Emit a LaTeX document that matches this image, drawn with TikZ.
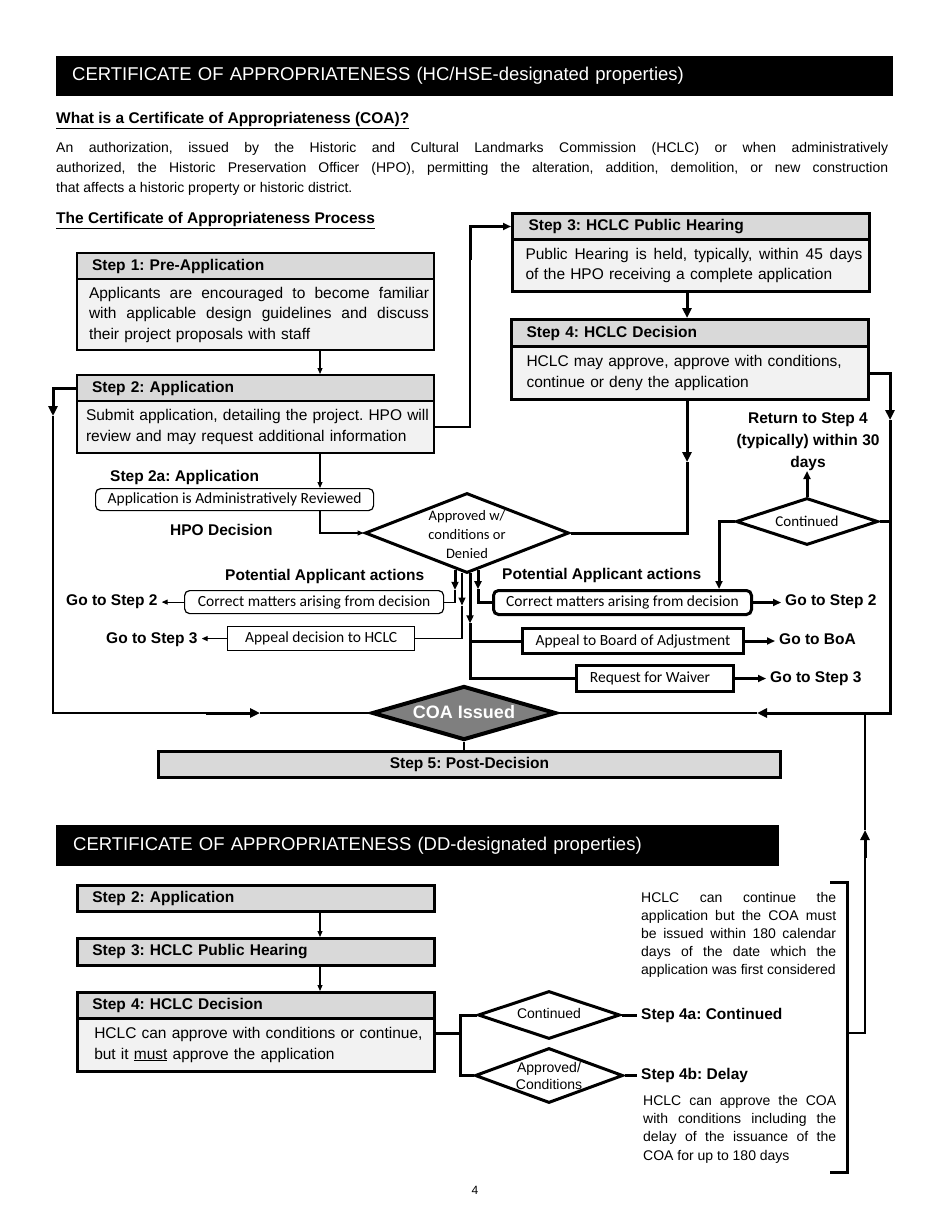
\documentclass[tikz,border=0pt]{standalone}
\usepackage{fontspec}
\setmainfont{Liberation Sans}
\newfontfamily\calfont{Carlito}
\usetikzlibrary{arrows.meta,shapes.geometric,calc}
\definecolor{hgray}{HTML}{D9D9D9}
\definecolor{bgray}{HTML}{F2F2F2}
\definecolor{coagray}{HTML}{7F7F7F}
\frenchspacing
\newcommand\jl[2]{{\spaceskip=0pt\xspaceskip=0pt\makebox[#1][s]{#2}}}
\newcommand\fB{\fontsize{15.5}{20.5}\selectfont}
\newcommand\fP{\fontsize{14}{20}\selectfont}
\newcommand\fN{\fontsize{14}{18}\selectfont}
\newcommand\fH{\fontsize{18.5}{22}\selectfont}
\newcommand\fC{\fontsize{15.5}{19}\selectfont\calfont}
\tikzset{
 lbl/.style={inner sep=0pt, anchor=base west, font=\fB\bfseries},
 lblr/.style={inner xsep=4pt, inner ysep=0pt, anchor=base west, font=\fB\bfseries},
 ptext/.style={inner sep=0pt, anchor=base west, font=\fP},
 ntext/.style={inner sep=0pt, anchor=base west, font=\fN},
 blackbar/.style={fill=black, text=white, anchor=north west, inner sep=0pt, align=left, font=\fH},
 stephdr/.style={draw, fill=hgray, anchor=north west, inner sep=0pt, text width=357pt, minimum height=26pt, align=left, font=\fB\bfseries},
 stepbody/.style={draw, fill=bgray, anchor=north west, inner sep=0pt, text width=357pt, align=left, font=\fB},
 cbox/.style={draw, fill=white, anchor=north west, inner sep=0pt, font=\fC, align=center},
 dia/.style={diamond, draw, fill=white, inner sep=0pt},
 lthin/.style={line width=1.1pt},
 lmid/.style={line width=2pt},
 lthick/.style={line width=3pt},
 tarr/.style={-{Triangle[length=6pt,width=5pt]}},
 marr/.style={-{Triangle[length=8pt,width=7pt]}},
 Tarr/.style={-{Triangle[length=10pt,width=9pt]}},
}
\begin{document}
\begin{tikzpicture}[x=1pt,y=-1pt]
\useasboundingbox (0,0) rectangle (950,1230);
\fill[white] (0,0) rectangle (950,1230);

% ---------- top section text ----------
\node[blackbar, text width=837pt, minimum height=40pt] (hdr1) at (56,56) {\hspace*{16pt}CERTIFICATE OF APPROPRIATENESS (HC/HSE-designated properties)};
\node[lbl] (q1) at (56,123.5) {\underline{What is a Certificate of Appropriateness (COA)?}};
\node[ptext] (p1) at (56,153) {\jl{832pt}{An authorization, issued by the Historic and Cultural Landmarks Commission (HCLC) or when administratively}};
\node[ptext] (p2) at (56,173) {\jl{832pt}{authorized, the Historic Preservation Officer (HPO), permitting the alteration, addition, demolition, or new construction}};
\node[ptext] (p3) at (56,193) {that affects a historic property or historic district.};
\node[lbl] (q2) at (56,223.5) {\underline{The Certificate of Appropriateness Process}};

% ---------- step boxes ----------
\node[stephdr, line width=2pt] (s1h) at (76,252) {\hspace*{15pt}Step 1: Pre-Application};
\node[stepbody, line width=2pt, minimum height=71pt] (s1b) at (76,278) {\hspace*{12pt}\jl{340pt}{Applicants are encouraged to become familiar}\\\hspace*{12pt}\jl{340pt}{with applicable design guidelines and discuss}\\\hspace*{12pt}their project proposals with staff};
\node[stephdr, line width=2pt] (s2h) at (76,374) {\hspace*{15pt}Step 2: Application};
\node[stepbody, line width=2pt, minimum height=52pt] (s2b) at (76,400) {\hspace*{9pt}Submit application, detailing the project. HPO will\\\hspace*{9pt}review and may request additional information};
\node[stephdr, line width=3pt] (s3h) at (511,212) {\hspace*{16pt}Step 3: HCLC Public Hearing};
\node[stepbody, line width=3pt, minimum height=52pt] (s3b) at (511,238) {\hspace*{13pt}\jl{337pt}{Public Hearing is held, typically, within 45 days}\\\hspace*{13pt}of the HPO receiving a complete application};
\node[stephdr, line width=3pt, minimum height=27pt] (s4h) at (510,318) {\hspace*{15pt}Step 4: HCLC Decision};
\node[stepbody, line width=3pt, minimum height=53pt] (s4b) at (510,345) {\hspace*{15pt}HCLC may approve, approve with conditions,\\\hspace*{15pt}continue or deny the application};

% ---------- decision area ----------
\node[lbl] (s2al) at (110,481.5) {Step 2a: Application};
\node[cbox, rounded corners=5pt, line width=1.2pt, minimum width=278pt, minimum height=22pt] (rev) at (95,488) {Application is Administratively Reviewed};
\node[lbl] (hpol) at (170,535.5) {HPO Decision};
\node[dia, line width=3pt, minimum width=204pt, minimum height=80pt] (hpo) at (467,533) {};
\node[inner sep=0pt, align=center, font=\fontsize{14.5}{19}\selectfont\calfont] (hpot) at (467,535) {Approved w/\\conditions or\\Denied};

\node[dia, line width=3pt, minimum width=142pt, minimum height=47pt] (cont) at (807,521.5) {};
\node[inner sep=0pt, font=\fontsize{15}{18}\selectfont\calfont] (contt) at (807,521) {Continued};
\node[inner sep=0pt, anchor=south, align=center, font=\fontsize{15.5}{22}\selectfont\bfseries] (ret) at (808,471) {Return to Step 4\\(typically) within 30\\days};

\node[lbl] (pal) at (225,580.5) {Potential Applicant actions};
\node[lbl] (parl) at (502,579.5) {Potential Applicant actions};

\node[cbox, rounded corners=5pt, line width=1.2pt, minimum width=259pt, minimum height=23pt] (lcorr) at (184,590) {Correct matters arising from decision};
\node[cbox, line width=1.2pt, minimum width=187pt, minimum height=24pt] (lapp) at (227,626) {Appeal decision to HCLC};
\node[lblr] (gl2) at (62,605.5) {Go to Step 2};
\node[lblr] (gl3) at (102,643.5) {Go to Step 3};

\node[cbox, rounded corners=5pt, line width=3pt, minimum width=258pt, minimum height=24pt] (rcorr) at (492,589) {Correct matters arising from decision};
\node[cbox, line width=3pt, minimum width=221pt, minimum height=25pt] (boa) at (521,627) {Appeal to Board of Adjustment};
\node[cbox, line width=3pt, minimum width=157pt, minimum height=26pt] (waiv) at (575,664) {Request for Waiver\hspace*{10pt}};
\node[lblr] (gr2) at (781,605.5) {Go to Step 2};
\node[lblr] (gboa) at (775,644) {Go to BoA};
\node[lblr] (gr3) at (766,682.5) {Go to Step 3};

\node[dia, line width=4pt, fill=coagray, minimum width=184pt, minimum height=54pt] (coa) at (464,713) {};
\node[inner sep=0pt, text=white, font=\fontsize{18}{20}\selectfont\bfseries] (coat) at (464,712) {COA Issued};
\node[draw, fill=hgray, line width=3pt, minimum width=622pt, minimum height=26pt, anchor=north west, inner sep=0pt, font=\fB\bfseries] (s5) at (157,750) {Step 5: Post-Decision};

% ---------- coordinates ----------
\coordinate (cx320) at (320,0);
\coordinate (cx687) at (687,0);
\coordinate (cx719) at (719,0);
\coordinate (ll1) at (53,416);
\coordinate (ll2) at (53,713);
\coordinate (la1) at (206,713);
\coordinate (la2) at (260,713);
\coordinate (r1) at (470,260);
\coordinate (d1) at (687,462);
\coordinate (rr1) at (890,420);
\coordinate (rr2) at (890,713);
\coordinate (ra1) at (816,713);
\coordinate (ra2) at (757,713);
\coordinate (h1) at ($(hpo.south)+(-12,-4.7)$);
\coordinate (h2) at ($(hpo.south)+(-5,-2)$);
\coordinate (h3) at ($(hpo.south)+(3,-1.2)$);
\coordinate (h4) at ($(hpo.south)+(11,-4.3)$);
\coordinate (a1) at ($(h1)+(0,20)$);
\coordinate (a2) at ($(h2)+(0,33)$);
\coordinate (a3) at ($(h3)+(0,50)$);
\coordinate (a4) at ($(h4)+(0,19)$);

% ---------- connectors top ----------
\draw[lthin,tarr] (s1b.south -| cx320) -- (s2h.north -| cx320);
\draw[lthin,tarr] (s2b.south -| cx320) -- (rev.north -| cx320);
\draw[lthin,tarr] (rev.south -| cx320) |- (hpo.west);

\draw[lthick,Tarr] (s2h.west) -| (ll1);
\draw[lthin] (ll1) -- (ll2) -- (la1);
\draw[lthick,Tarr] (la1) -- (la2);
\draw[lthin] (la2) -- (coa.west);

\draw[lthin] (s2b.east) -| (r1);
\draw[lthick,marr] (r1) |- (s3h.west);
\draw[lthick,Tarr] (s3b.south -| cx687) -- (s4h.north -| cx687);
\draw[lthick,Tarr] (s4b.south -| cx687) -- (d1);
\draw[lthick] (d1) |- (hpo.east);

\draw[lthick,Tarr] (s4b.east) -| (rr1);
\draw[lthick] (rr1) -- (rr2) -- (ra1);
\draw[lthick,Tarr] (ra1) -- (ra2);
\draw[lthin] (ra2) -- (coa.east);

\draw[lthick] (cont.east) -- (cont.east -| rr1);
\draw[lthick,marr] (cont.north) -- (cont.north |- ret.south);
\draw[lthick,marr] (cont.west) -| (rcorr.north -| cx719);

\draw[lthick,marr] (h1) -- (a1);
\draw[lthin] (a1) |- (lcorr.east);
\draw[lthin,marr] (h2) -- (a2);
\draw[lthin] (a2) |- (lapp.east);
\draw[lthick,marr] (h3) -- (a3);
\draw[lthick] (a3) |- (waiv.west);
\draw[lthick] (boa.west -| a3) -- (boa.west);
\draw[lthick,marr] (h4) -- (a4);
\draw[lthick] (a4) |- (rcorr.west);

\draw[lthin,tarr] (lcorr.west) -- (lcorr.west -| gl2.east);
\draw[lthin,tarr] (lapp.west) -- (lapp.west -| gl3.east);
\draw[lthick,marr] (rcorr.east) -- (rcorr.east -| gr2.west);
\draw[lthick,marr] (boa.east) -- (boa.east -| gboa.west);
\draw[lthick,marr] (waiv.east) -- (waiv.east -| gr3.west);

\draw[lthin] (coa.south) -- (coa.south |- s5.north);

% ---------- DD section ----------
\node[blackbar, text width=723pt, minimum height=41pt] (hdr2) at (56,825) {\hspace*{17pt}CERTIFICATE OF APPROPRIATENESS (DD-designated properties)};
\node[stephdr, line width=2.5pt] (d2h) at (76,884) {\hspace*{15pt}Step 2: Application};
\node[stephdr, line width=2.5pt, minimum height=27pt] (d3h) at (76,937) {\hspace*{15pt}Step 3: HCLC Public Hearing};
\node[stephdr, line width=2.5pt] (d4h) at (76,991) {\hspace*{15pt}Step 4: HCLC Decision};
\node[stepbody, line width=2.5pt, minimum height=53pt] (d4b) at (76,1017) {\hspace*{17pt}HCLC can approve with conditions or continue,\\\hspace*{17pt}but it \underline{must} approve the application};

\node[dia, line width=3pt, minimum width=142pt, minimum height=48pt] (dcont) at (549,1015) {};
\node[inner sep=0pt, font=\fontsize{14}{17}\selectfont] (dcontt) at (549,1013) {Continued};
\node[dia, line width=3pt, minimum width=148pt, minimum height=55pt] (dapp) at (549,1075.5) {};
\node[inner sep=0pt, align=center, font=\fontsize{14}{17}\selectfont] (dappt) at (549,1075.5) {Approved/\\Conditions};

\node[lblr] (s4a) at (637,1019.5) {Step 4a: Continued};
\node[lblr] (s4bl) at (637,1079.5) {Step 4b: Delay};

\node[ntext] (n1) at (641,902) {\jl{195pt}{HCLC can continue the}};
\node[ntext] (n2) at (641,920) {\jl{195pt}{application but the COA must}};
\node[ntext] (n3) at (641,938) {\jl{195pt}{be issued within 180 calendar}};
\node[ntext] (n4) at (641,956) {\jl{195pt}{days of the date which the}};
\node[ntext] (n5) at (641,974) {application was first considered};

\node[ntext] (m1) at (643,1105) {\jl{193pt}{HCLC can approve the COA}};
\node[ntext] (m2) at (643,1123) {\jl{193pt}{with conditions including the}};
\node[ntext] (m3) at (643,1141) {\jl{193pt}{delay of the issuance of the}};
\node[ntext] (m4) at (643,1160) {COA for up to 180 days};

\node[inner sep=0pt, font=\fontsize{12}{14}\selectfont] (pg) at (475,1190) {4};

\coordinate (dv) at (460,0);
\coordinate (dj) at (460,1033);
\coordinate (bt) at (830,882);
\coordinate (bb) at (830,1172);
\coordinate (bx) at (847,0);
\coordinate (bj) at (847,1033);
\coordinate (vj) at (865,1033);
\coordinate (vb) at (865,858);
\coordinate (va) at (865,830);

\draw[lthin,tarr] (d2h.south -| cx320) -- (d3h.north -| cx320);
\draw[lthin,tarr] (d3h.south -| cx320) -- (d4h.north -| cx320);
\draw[lthick] (d4b.east |- dj) -- (dj);
\draw[lthick] (dcont.west) -- (dcont.west -| dv) -- (dapp.west -| dv) -- (dapp.west);
\draw[lthick] (dcont.east) -- (dcont.east -| s4a.west);
\draw[lthick] (dapp.east) -- (dapp.east -| s4bl.west);
\draw[lthick] (bt) -| (bb -| bx) -- (bb);
\draw[lmid] (bj) -- (vj) -- (vb);
\draw[lthick,Tarr] (vb) -- (va);
\draw[lmid] (va) -- (va |- rr2);
\end{tikzpicture}
\end{document}
